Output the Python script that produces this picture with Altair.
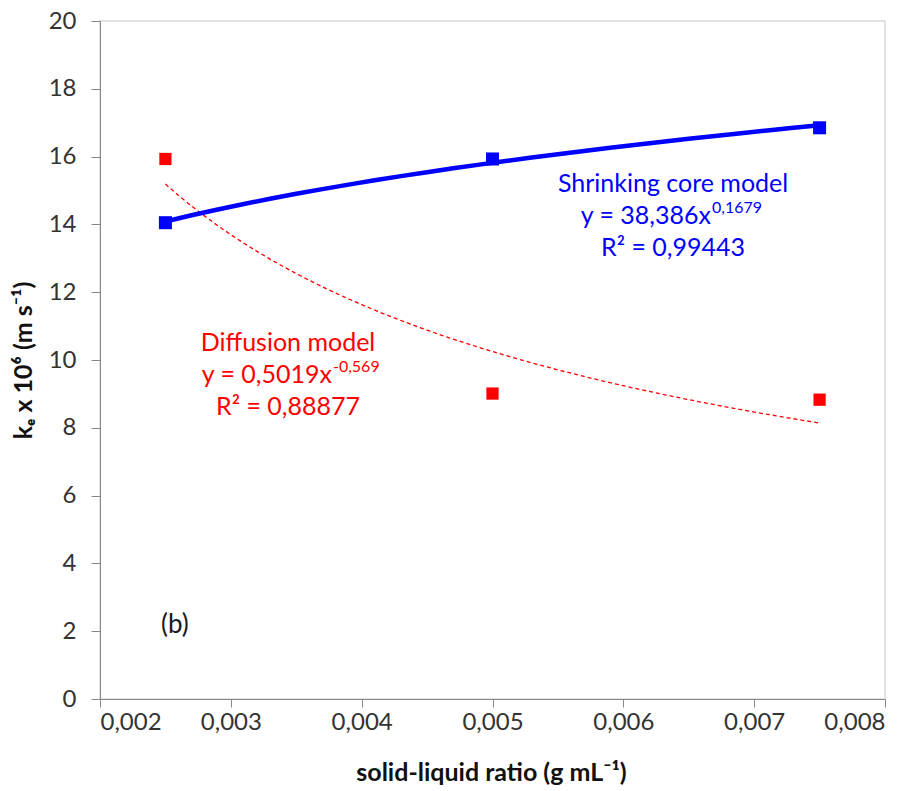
import altair as alt
import pandas as pd

# ---- data ----
ratio = [0.0025, 0.005, 0.0075]
shrinking_core = [14.05, 15.93, 16.85]
diffusion = [15.93, 9.01, 8.83]

x_ticks = [0.002, 0.003, 0.004, 0.005, 0.006, 0.007, 0.008]
y_ticks = [0, 2, 4, 6, 8, 10, 12, 14, 16, 18, 20]

# annotation texts (anchored in data coordinates)
label_text = ["Shrinking core model", "R² = 0,99443", "Diffusion model", "R² = 0,88877"]
label_x = [0.00638, 0.00638, 0.003437, 0.003437]
label_y = [15.2, 13.3, 10.5, 8.61]
label_series = ["blue", "blue", "red", "red"]

panel_text = ["(b)"]
panel_x = [0.002573]
panel_y = [2.18]

eq_base = ["y = 38,386x", "y = 0,5019x"]
eq_sup = ["0,1679", "-0,569"]
eq_x = [0.00667, 0.003773]
eq_y = [14.24, 9.56]
eq_series = ["blue", "red"]

FONT = "Lato, 'DejaVu Sans', sans-serif"
BLUE = "#0000FF"
RED = "#FF0000"

blue_df = pd.DataFrame({"x": ratio, "y": shrinking_core})
red_df = pd.DataFrame({"x": ratio, "y": diffusion})
lab_df = pd.DataFrame({"x": label_x, "y": label_y, "t": label_text, "c": label_series})
pan_df = pd.DataFrame({"x": panel_x, "y": panel_y, "t": panel_text})
eq_df = pd.DataFrame({"x": eq_x, "y": eq_y, "b": eq_base, "s": eq_sup, "c": eq_series})

xscale = alt.Scale(domain=[0.002, 0.008], nice=False, zero=False)
yscale = alt.Scale(domain=[0, 20], nice=False)
color_scale = alt.Scale(domain=["blue", "red"], range=[BLUE, RED])

x_axis = alt.Axis(
    values=x_ticks,
    labelExpr="replace(format(datum.value, '.3f'), '.', ',')",
    title="solid-liquid ratio (g mL⁻¹)",
    titleX=391, titleY=73, titleAnchor="start", titleAlign="center", titleBaseline="middle",
    titleFont=FONT, titleFontSize=25, titleFontWeight="bold", titleColor="#111",
    labelFont=FONT, labelFontSize=24, labelColor="#333", labelPadding=3,
    tickSize=8, tickColor="#888", domainColor="#888", grid=False,
)
y_axis = alt.Axis(
    values=y_ticks,
    title="kₑ x 10⁶ (m s⁻¹)",
    titleX=-77, titleY=339, titleAnchor="start", titleAlign="center", titleBaseline="middle",
    titleAngle=270,
    titleFont=FONT, titleFontSize=25, titleFontWeight="bold", titleColor="#111",
    labelFont=FONT, labelFontSize=24, labelColor="#333", labelPadding=15,
    tickSize=9, tickColor="#888", domainColor="#888", grid=False,
)

X = alt.X("x:Q", scale=xscale, axis=x_axis)
Y = alt.Y("y:Q", scale=yscale, axis=y_axis)

blue_fit = alt.Chart(blue_df).transform_regression(
    "x", "y", method="pow", extent=[0.0025, 0.0075]
).mark_line(color=BLUE, strokeWidth=4.5).encode(x=X, y=Y)

red_fit = alt.Chart(red_df).transform_regression(
    "x", "y", method="pow", extent=[0.0025, 0.0075]
).mark_line(color=RED, strokeWidth=1.3, strokeDash=[4, 3]).encode(x=X, y=Y)

blue_pts = alt.Chart(blue_df).mark_square(size=170, color=BLUE, opacity=1).encode(x=X, y=Y)
red_pts = alt.Chart(red_df).mark_square(size=150, color=RED, opacity=1).encode(x=X, y=Y)

labels = alt.Chart(lab_df).mark_text(
    font=FONT, fontSize=25, align="center", baseline="middle"
).encode(
    x=X, y=Y, text="t:N",
    color=alt.Color("c:N", scale=color_scale, legend=None),
)

panel = alt.Chart(pan_df).mark_text(
    font=FONT, fontSize=26, align="center", baseline="middle", color="#1a1a1a"
).encode(x=X, y=Y, text="t:N")

eq_base_txt = alt.Chart(eq_df).mark_text(
    font=FONT, fontSize=25, align="right", baseline="middle"
).encode(
    x=X, y=Y, text="b:N",
    color=alt.Color("c:N", scale=color_scale, legend=None),
)
eq_sup_txt = alt.Chart(eq_df).mark_text(
    font=FONT, fontSize=16, align="left", baseline="middle", dx=1, dy=-8
).encode(
    x=X, y=Y, text="s:N",
    color=alt.Color("c:N", scale=color_scale, legend=None),
)

chart = alt.layer(
    red_fit, blue_fit, blue_pts, red_pts, labels, panel, eq_base_txt, eq_sup_txt
).properties(
    width=785, height=678,
    autosize=alt.AutoSizeParams(type="none"),
    padding={"left": 100, "top": 21, "right": 35, "bottom": 92},
    background="white",
).configure_view(stroke="#d9d9d9", strokeWidth=1.5)

chart.save("out.html", embed_options={"renderer": "svg", "actions": False})
